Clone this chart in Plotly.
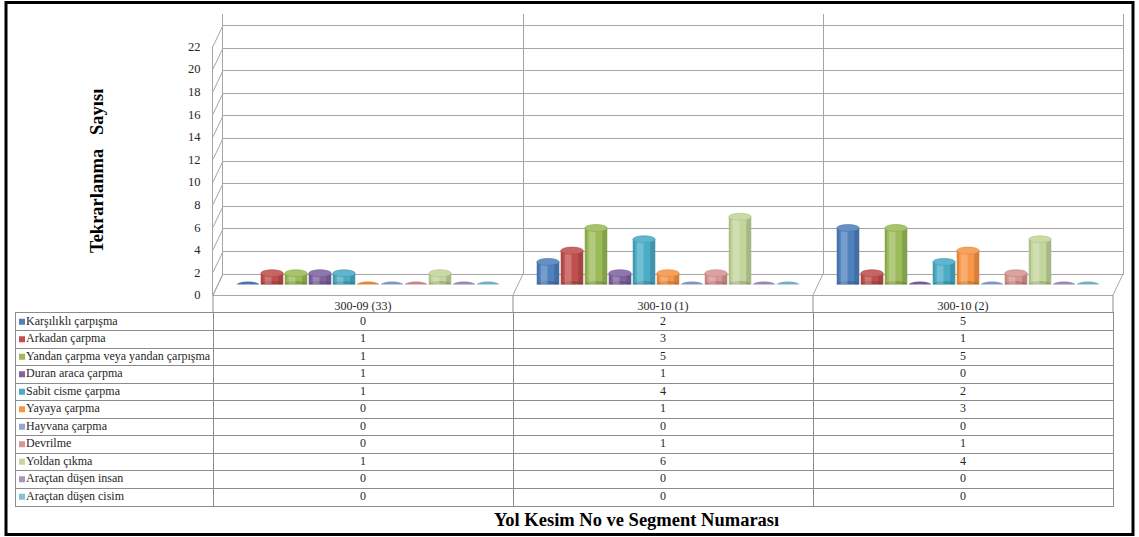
import plotly.graph_objects as go

# ---- data -------------------------------------------------------------
segments = ["300-09 (33)", "300-10 (1)", "300-10 (2)"]
series_names = [
    "Karşılıklı çarpışma",
    "Arkadan çarpma",
    "Yandan çarpma veya yandan çarpışma",
    "Duran araca çarpma",
    "Sabit cisme çarpma",
    "Yayaya çarpma",
    "Hayvana çarpma",
    "Devrilme",
    "Yoldan çıkma",
    "Araçtan düşen insan",
    "Araçtan düşen cisim",
]
karsilikli = [0, 2, 5]
arkadan = [1, 3, 1]
yandan = [1, 5, 5]
duran_araca = [1, 1, 0]
sabit_cisme = [1, 4, 2]
yayaya = [0, 1, 3]
hayvana = [0, 0, 0]
devrilme = [0, 1, 1]
yoldan_cikma = [1, 6, 4]
dusen_insan = [0, 0, 0]
dusen_cisim = [0, 0, 0]
series_values = [karsilikli, arkadan, yandan, duran_araca, sabit_cisme, yayaya,
                 hayvana, devrilme, yoldan_cikma, dusen_insan, dusen_cisim]
y_ticks = list(range(0, 23, 2))

colors = ["#4F81BD", "#C0504D", "#9BBB59", "#8064A2", "#4BACC6", "#F79646",
          "#8DA7D6", "#D99694", "#C3D69B", "#A895C2", "#7FC3D6"]

# ---- geometry (pixels) ------------------------------------------------
W, H = 1139, 537
FONT = "Liberation Serif"
PPU = 11.3                      # pixels per value unit
FRONT_X, FRONT_Y = 213, 295     # front-left corner of the floor
DX, DY = 10, 21                 # depth offset of the back wall
COL_W = 300
N_CAT = len(segments)
TABLE_LEFT = 16
HEAD_H, ROW_H = 18, 17.5
GRID = "#A6A6A6"
TABLE_LINE = "#8C8C8C"
TEXT = "#262626"


def fx(p):
    return p / W


def fy(p):
    return 1 - p / H


def shade(hex_color, f):
    h = hex_color.lstrip("#")
    r, g, b = (int(h[i:i + 2], 16) for i in (0, 2, 4))
    if f >= 0:
        r, g, b = (int(c + (255 - c) * f) for c in (r, g, b))
    else:
        r, g, b = (int(c * (1 + f)) for c in (r, g, b))
    return f"rgb({r},{g},{b})"


fig = go.Figure()

# invisible anchors so the front axes and the back wall get drawn
for xa, ya in (("x", "y"), ("x2", "y2")):
    fig.add_trace(go.Scatter(x=[0], y=[0], xaxis=xa, yaxis=ya, mode="markers",
                             marker=dict(opacity=0), showlegend=False,
                             hoverinfo="skip", cliponaxis=True))

# ---- cylinders --------------------------------------------------------
slot = 24 / COL_W
bar_w = 22.5 / COL_W
cap_h = 7 / PPU
disc_h = 6 / PPU
shapes = []
for j, (name, vals) in enumerate(zip(series_names, series_values)):
    xs = [i + (j - 5) * slot for i in range(N_CAT)]
    fig.add_trace(go.Bar(
        x=xs, y=vals, width=bar_w, name=name, xaxis="x3", yaxis="y3",
        marker=dict(color=colors[j], line=dict(width=0)),
        showlegend=False, hoverinfo="skip",
    ))
    for x, v in zip(xs, vals):
        ref = dict(xref="x3", yref="y3", layer="above")
        if v == 0:
            shapes.append(dict(type="circle", x0=x - bar_w / 2, x1=x + bar_w / 2,
                               y0=-disc_h / 2, y1=disc_h / 2,
                               fillcolor=shade(colors[j], -0.1),
                               line=dict(width=0), **ref))
            continue
        # rounded bottom
        shapes.append(dict(type="circle", x0=x - bar_w / 2, x1=x + bar_w / 2,
                           y0=-cap_h / 2, y1=cap_h / 2,
                           fillcolor=shade(colors[j], -0.15),
                           line=dict(width=0), **ref))
        # highlight and shadow bands for the curved face
        shapes.append(dict(type="rect", x0=x - bar_w * 0.32, x1=x - bar_w * 0.02,
                           y0=0, y1=v, fillcolor="rgba(255,255,255,0.22)",
                           line=dict(width=0), **ref))
        shapes.append(dict(type="rect", x0=x + bar_w * 0.28, x1=x + bar_w / 2,
                           y0=0, y1=v, fillcolor="rgba(0,0,0,0.14)",
                           line=dict(width=0), **ref))
        shapes.append(dict(type="rect", x0=x - bar_w / 2, x1=x - bar_w * 0.40,
                           y0=0, y1=v, fillcolor="rgba(0,0,0,0.10)",
                           line=dict(width=0), **ref))
        # top cap
        shapes.append(dict(type="circle", x0=x - bar_w / 2, x1=x + bar_w / 2,
                           y0=v - cap_h / 2, y1=v + cap_h / 2,
                           fillcolor=shade(colors[j], 0.12),
                           line=dict(width=0.6, color=shade(colors[j], -0.1)), **ref))

# ---- floor and side-wall edges -----------------------------------------
line_style = dict(color=GRID, width=1)
for k in range(N_CAT + 1):
    xf = FRONT_X + k * COL_W
    shapes.append(dict(type="line", xref="paper", yref="paper", layer="below",
                       x0=fx(xf), y0=fy(FRONT_Y), x1=fx(xf + DX), y1=fy(FRONT_Y - DY),
                       line=line_style))
    # column separators in the category-label row
    shapes.append(dict(type="line", xref="paper", yref="paper", layer="below",
                       x0=fx(xf), y0=fy(FRONT_Y), x1=fx(xf), y1=fy(FRONT_Y + HEAD_H),
                       line=dict(color=TABLE_LINE, width=1)))
for v in y_ticks:
    yf = FRONT_Y - v * PPU
    shapes.append(dict(type="line", xref="paper", yref="paper", layer="below",
                       x0=fx(FRONT_X), y0=fy(yf), x1=fx(FRONT_X + DX), y1=fy(yf - DY),
                       line=line_style))

# outer frame
shapes.append(dict(type="rect", xref="paper", yref="paper",
                   x0=fx(6), y0=fy(2.5), x1=fx(1133), y1=fy(534.5),
                   line=dict(color="black", width=3), layer="above"))

# ---- data table (its own cartesian grid: columns = segments, rows = series) --
n_rows = len(series_names)
rows = list(range(n_rows))
first_w = (FRONT_X - TABLE_LEFT) / COL_W          # width of label column in column units
x_left = -0.5 - first_w
for i in range(N_CAT):
    fig.add_trace(go.Scatter(
        x=[i] * n_rows, y=rows, mode="text",
        text=[str(vals[i]) for vals in series_values],
        textposition="middle center",
        textfont=dict(family=FONT, size=12, color=TEXT),
        xaxis="x4", yaxis="y4", showlegend=False, hoverinfo="skip",
    ))
fig.add_trace(go.Scatter(
    x=[x_left + 6 / COL_W] * n_rows, y=rows, mode="markers",
    marker=dict(symbol="square", size=6, color=colors, line=dict(width=0)),
    xaxis="x4", yaxis="y4", showlegend=False, hoverinfo="skip",
))
fig.add_trace(go.Scatter(
    x=[x_left + 10 / COL_W] * n_rows, y=rows, mode="text",
    text=series_names, textposition="middle right",
    textfont=dict(family=FONT, size=12, color=TEXT),
    xaxis="x4", yaxis="y4", showlegend=False, hoverinfo="skip",
))

# ---- axes ------------------------------------------------------------
axis_off = dict(showgrid=False, zeroline=False, showticklabels=False, showline=False,
                automargin=False)
table_top = FRONT_Y + HEAD_H
table_bottom = table_top + ROW_H * n_rows
fig.update_layout(
    width=W, height=H,
    autosize=False,
    margin=dict(l=0, r=0, t=0, b=0, pad=0, autoexpand=False),
    paper_bgcolor="white",
    plot_bgcolor="rgba(0,0,0,0)",
    barmode="overlay",
    font=dict(family=FONT, color=TEXT),
    # front axes: value labels and category labels
    xaxis=dict(domain=[fx(FRONT_X), fx(FRONT_X + N_CAT * COL_W)],
               range=[-0.5, N_CAT - 0.5], tickvals=list(range(N_CAT)), ticktext=segments,
               showgrid=False, zeroline=False, showline=True, linecolor=GRID, ticks="",
               automargin=False, tickfont=dict(size=12, family=FONT, color=TEXT)),
    yaxis=dict(domain=[fy(FRONT_Y), fy(FRONT_Y - 22 * PPU)], range=[0, 22],
               tickvals=y_ticks, showgrid=False, zeroline=False, showline=True,
               linecolor=GRID, ticks="", ticklabelstandoff=9, automargin=False,
               tickfont=dict(size=12.5, family=FONT, color=TEXT)),
    # back wall with gridlines
    xaxis2=dict(domain=[fx(FRONT_X + DX), fx(FRONT_X + DX + N_CAT * COL_W)],
                range=[-0.5, N_CAT - 0.5],
                tickvals=[k + 0.5 for k in range(N_CAT - 1)],
                showgrid=True, gridcolor=GRID, gridwidth=1, showticklabels=False,
                zeroline=False, showline=True, linecolor=GRID, ticks="", anchor="y2",
                automargin=False),
    yaxis2=dict(domain=[fy(FRONT_Y - DY), fy(FRONT_Y - DY - 23 * PPU)], range=[0, 23],
                tickvals=y_ticks, showgrid=True, gridcolor=GRID, gridwidth=1,
                showticklabels=False, zeroline=False, showline=True, mirror=True,
                linecolor=GRID, ticks="", anchor="x2", automargin=False),
    # cylinders sit half-way into the floor
    xaxis3=dict(domain=[fx(FRONT_X + DX / 2), fx(FRONT_X + DX / 2 + N_CAT * COL_W)],
                range=[-0.5, N_CAT - 0.5], anchor="y3", **axis_off),
    yaxis3=dict(domain=[fy(FRONT_Y - DY / 2), fy(FRONT_Y - DY / 2 - 23 * PPU)],
                range=[0, 23], anchor="x3", **axis_off),
    # table grid
    xaxis4=dict(domain=[fx(TABLE_LEFT), fx(FRONT_X + N_CAT * COL_W)],
                range=[x_left, N_CAT - 0.5],
                tickvals=[k - 0.5 for k in range(N_CAT)],
                showgrid=True, gridcolor=TABLE_LINE, gridwidth=1, zeroline=False,
                showticklabels=False, ticks="", showline=True, mirror=True,
                linecolor=TABLE_LINE, anchor="y4", automargin=False),
    yaxis4=dict(domain=[fy(table_bottom), fy(table_top)],
                range=[n_rows - 0.5, -0.5],
                tickvals=[r + 0.5 for r in range(n_rows - 1)],
                showgrid=True, gridcolor=TABLE_LINE, gridwidth=1, zeroline=False,
                showticklabels=False, ticks="", showline=True, mirror=True,
                linecolor=TABLE_LINE, anchor="x4", automargin=False),
    shapes=shapes,
    annotations=[
        dict(text="<b>Tekrarlanma\u00a0\u00a0 Sayısı</b>", xref="paper", yref="paper",
             x=fx(97), y=fy(171), xanchor="center", yanchor="middle",
             textangle=-90, showarrow=False,
             font=dict(family=FONT, size=18.5, color="black")),
        dict(text="<b>Yol Kesim No ve Segment Numarası</b>", xref="paper", yref="paper",
             x=fx(636), y=fy(520), xanchor="center", yanchor="middle", showarrow=False,
             font=dict(family=FONT, size=18.5, color="black")),
    ],
)

fig.write_html("out.html")
